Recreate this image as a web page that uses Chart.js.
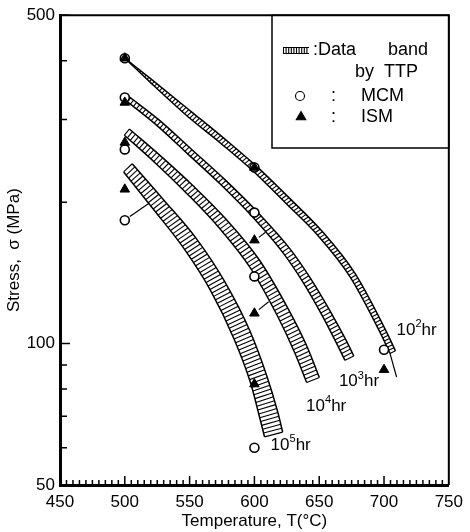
<!DOCTYPE html>
<html>
<head>
<meta charset="utf-8">
<title>Creep rupture stress</title>
<script src="https://cdn.jsdelivr.net/npm/chart.js@4.4.0/dist/chart.umd.min.js"></script>
<style>
  html, body { margin: 0; padding: 0; background: #fff; }
  canvas { display: block; }
</style>
</head>
<body>
<canvas id="grafico" width="470" height="532"></canvas>
<script>
// Predicted rupture stress (MPa) at each test temperature (°C)
const mcmTemp   = [500, 500, 500, 500, 600, 600, 600, 600, 700];
const mcmStress = [405, 334, 259, 183, 237, 190, 139, 60, 97];
const ismTemp   = [500, 500, 500, 500, 600, 600, 600, 600, 700];
const ismStress = [405, 326, 268, 213, 237, 166, 116, 82, 88];

// TTP data bands, [temperature, stress] along the outer and inner edge
const band2Outer = [[500, 405], [520.6, 365], [551.7, 311], [576.8, 273], [601.9, 238], [627, 204], [652.2, 173.4], [677.5, 141.2], [701.9, 105.9], [708.8, 96.5]];
const band2Inner = [[500, 405], [519.1, 361], [548.8, 304], [573.9, 267], [598.9, 233], [623.8, 199.5], [648.8, 170.1], [673.7, 138.9], [697.8, 104.5], [704.6, 95.3]];
const band3Outer = [[502.1, 337.3], [526.6, 299], [551.8, 258.6], [577, 223.6], [602.3, 190.6], [627.9, 158.5], [643.4, 137.5], [658.1, 117.7], [670.6, 101.8], [676.7, 94.1]];
const band3Inner = [[499.7, 330.9], [523.8, 292.8], [548.7, 253.1], [573.6, 218.6], [598.5, 186.1], [623, 154.8], [637.9, 134.5], [652, 115.1], [663.9, 99.5], [669.9, 92.1]];
const band4Outer = [[503.5, 286.2], [528.2, 250], [552.9, 216.4], [578.5, 183.4], [604.2, 150.1], [626.8, 117.5], [640.9, 98.1], [650.1, 84.7]];
const band4Inner = [[499.7, 277.7], [523.7, 242.1], [547.6, 209], [572.2, 177.1], [596.6, 145.3], [618, 114.2], [631.2, 95.5], [640.3, 82.6]];
const band5Outer = [[505.7, 241.4], [530, 202.2], [555.2, 167.3], [577.1, 135.5], [596.8, 106], [609.9, 84.8], [618, 71.5], [621.8, 64.8]];
const band5Inner = [[499.1, 231.9], [521.9, 193.4], [545.3, 159.8], [565.9, 130.1], [584.3, 102.3], [597, 82.5], [604, 69.7], [607.8, 63.3]];

// short leader lines from markers to bands
const leaderLines = [
    [[704.6, 95.3], [709.7, 84.9]],
    [[503.9, 186.5], [518.4, 198.7]],
    [[603.4, 168.3], [608.6, 172.6]],
    [[603.4, 118.1], [611, 122.8]]
];

// rupture time of each band (exponent of 10, hours) and where its label sits
const bandExponents = ['2', '3', '4', '5'];
const bandLabelAt = [[709.7, 106.7], [665.2, 83.0], [639.9, 73.5], [612.5, 60.7]];

// axis ticks
const xTickValues = [450, 500, 550, 600, 650, 700, 750];
const yTickValues = [50, 100, 500];
const yMinorTicks = [60, 70, 80, 90, 200, 300, 400];

const FONT = "'Liberation Sans', Arial, sans-serif";
const hatchGap = [3.4, 3.8, 4, 4];

const bands = [
    [band2Outer, band2Inner],
    [band3Outer, band3Inner],
    [band4Outer, band4Inner],
    [band5Outer, band5Inner]
];

const toXY = (pairs) => pairs.map(p => ({ x: p[0], y: p[1] }));

const datasets = [];

datasets.push({
    label: 'ISM',
    data: ismTemp.map((t, i) => ({ x: t, y: ismStress[i] })),
    showLine: false,
    pointStyle: 'triangle',
    pointRadius: 5.5,
    pointBackgroundColor: '#000',
    pointBorderColor: '#000',
    pointBorderWidth: 1,
    order: 0
});

datasets.push({
    label: 'MCM',
    data: mcmTemp.map((t, i) => ({ x: t, y: mcmStress[i] })),
    showLine: false,
    pointStyle: 'circle',
    pointRadius: 4.5,
    pointBackgroundColor: '#fff',
    pointBorderColor: '#000',
    pointBorderWidth: 1.6,
    order: 1
});

leaderLines.forEach((line) => {
    datasets.push({
        data: toXY(line),
        borderColor: '#000',
        borderWidth: 1.2,
        pointRadius: 0,
        tension: 0,
        order: 2
    });
});

bands.forEach((band, b) => {
    band.forEach((edge, e) => {
        datasets.push({
            data: toXY(edge),
            borderColor: '#000',
            borderWidth: 1.5,
            pointRadius: 0,
            cubicInterpolationMode: 'monotone',
            bandIndex: b,
            edgeIndex: e,
            order: 3
        });
    });
});

// sample the drawn (monotone bezier) edge in pixels
function sampleEdge(meta, area) {
    if (meta.dataset && meta.dataset.updateControlPoints) {
        meta.dataset.updateControlPoints(area, 'x');
    }
    const pts = meta.data;
    const out = [];
    for (let i = 0; i < pts.length - 1; i++) {
        const a = pts[i], b = pts[i + 1];
        const c1x = a.cp2x ?? a.x, c1y = a.cp2y ?? a.y;
        const c2x = b.cp1x ?? b.x, c2y = b.cp1y ?? b.y;
        for (let k = 0; k < 24; k++) {
            const t = k / 24, u = 1 - t;
            out.push([
                u * u * u * a.x + 3 * u * u * t * c1x + 3 * u * t * t * c2x + t * t * t * b.x,
                u * u * u * a.y + 3 * u * u * t * c1y + 3 * u * t * t * c2y + t * t * t * b.y
            ]);
        }
    }
    const last = pts[pts.length - 1];
    out.push([last.x, last.y]);
    return out;
}

function polyLength(poly) {
    const cum = [0];
    for (let i = 1; i < poly.length; i++) {
        cum.push(cum[i - 1] + Math.hypot(poly[i][0] - poly[i - 1][0], poly[i][1] - poly[i - 1][1]));
    }
    return cum;
}

function resample(poly, n) {
    const cum = polyLength(poly);
    const total = cum[cum.length - 1];
    const res = [];
    let j = 0;
    for (let k = 0; k <= n; k++) {
        const d = total * k / n;
        while (j < cum.length - 2 && cum[j + 1] < d) j++;
        const seg = cum[j + 1] - cum[j];
        const f = seg ? (d - cum[j]) / seg : 0;
        res.push([
            poly[j][0] + (poly[j + 1][0] - poly[j][0]) * f,
            poly[j][1] + (poly[j + 1][1] - poly[j][1]) * f
        ]);
    }
    return res;
}

// hatching across each band, between its two edges
const bandHatch = {
    id: 'bandHatch',
    beforeDatasetsDraw(chart) {
        const ctx = chart.ctx;
        const area = chart.chartArea;
        ctx.save();
        ctx.beginPath();
        ctx.rect(area.left, area.top, area.right - area.left, area.bottom - area.top);
        ctx.clip();
        ctx.strokeStyle = '#000';
        ctx.lineWidth = 1.1;
        bands.forEach((band, b) => {
            const edges = [];
            chart.data.datasets.forEach((ds, i) => {
                if (ds.bandIndex === b) edges[ds.edgeIndex] = sampleEdge(chart.getDatasetMeta(i), area);
            });
            const lenA = polyLength(edges[0]).pop();
            const lenB = polyLength(edges[1]).pop();
            const n = Math.max(2, Math.round((lenA + lenB) / 2 / hatchGap[b]));
            const outer = resample(edges[0], n);
            const inner = resample(edges[1], n);
            ctx.beginPath();
            for (let k = 0; k <= n; k++) {
                ctx.moveTo(outer[k][0], outer[k][1]);
                ctx.lineTo(inner[k][0], inner[k][1]);
            }
            ctx.stroke();
        });
        ctx.restore();
    }
};

// frame, inward ticks, band labels and the boxed legend
const decorations = {
    id: 'decorations',
    afterDraw(chart) {
        const ctx = chart.ctx;
        const area = chart.chartArea;
        const xs = chart.scales.x, ys = chart.scales.y;
        ctx.save();
        ctx.strokeStyle = '#000';
        ctx.fillStyle = '#000';

        // top and right frame
        ctx.lineWidth = 2;
        ctx.beginPath();
        ctx.moveTo(area.left, area.top);
        ctx.lineTo(area.right, area.top);
        ctx.lineTo(area.right, area.bottom);
        ctx.stroke();

        // inward ticks
        ctx.lineWidth = 1.5;
        ctx.beginPath();
        for (let v = 455; v < 750; v += 5) {
            const px = xs.getPixelForValue(v);
            const len = v % 50 === 0 ? 9 : 5;
            ctx.moveTo(px, area.bottom);
            ctx.lineTo(px, area.bottom - len);
        }
        yMinorTicks.forEach(v => {
            const py = ys.getPixelForValue(v);
            ctx.moveTo(area.left, py);
            ctx.lineTo(area.left + 7, py);
        });
        yTickValues.forEach(v => {
            const py = ys.getPixelForValue(v);
            ctx.moveTo(area.left, py);
            ctx.lineTo(area.left + 10, py);
        });
        ctx.stroke();

        // band labels: 10^n hr
        ctx.textBaseline = 'middle';
        ctx.textAlign = 'left';
        bandExponents.forEach((e, i) => {
            let px = xs.getPixelForValue(bandLabelAt[i][0]);
            const py = ys.getPixelForValue(bandLabelAt[i][1]);
            ctx.font = '17px ' + FONT;
            ctx.fillText('10', px, py);
            px += ctx.measureText('10').width;
            ctx.font = '11px ' + FONT;
            ctx.fillText(e, px, py - 6);
            px += ctx.measureText(e).width;
            ctx.font = '17px ' + FONT;
            ctx.fillText('hr', px, py);
        });

        // legend box
        const bx = 272, by = area.top, bw = area.right - bx, bh = 148 - area.top;
        ctx.lineWidth = 1.5;
        ctx.strokeRect(bx, by, bw, bh);

        // hatched band symbol
        ctx.lineWidth = 1.1;
        ctx.beginPath();
        ctx.moveTo(283, 47.5);
        ctx.lineTo(309, 47.5);
        ctx.moveTo(283, 53.5);
        ctx.lineTo(309, 53.5);
        for (let sx = 283.5; sx <= 309; sx += 2.6) {
            ctx.moveTo(sx, 47.5);
            ctx.lineTo(sx, 53.5);
        }
        ctx.stroke();

        ctx.font = '18px ' + FONT;
        ctx.fillText(':Data', 313, 50);
        ctx.fillText('band', 388, 50);
        ctx.fillText('by  TTP', 355, 72);
        ctx.fillText(':', 331, 96);
        ctx.fillText('MCM', 361, 96);
        ctx.fillText(':', 331, 117);
        ctx.fillText('ISM', 361, 117);

        ctx.fillStyle = '#fff';
        Chart.helpers.drawPoint(ctx, { pointStyle: 'circle', radius: 4.5, borderWidth: 1.6 }, 300, 96);
        ctx.fillStyle = '#000';
        Chart.helpers.drawPoint(ctx, { pointStyle: 'triangle', radius: 5.5, borderWidth: 1 }, 301, 117);

        ctx.restore();
    }
};

const tickFont = { family: FONT, size: 17 };

new Chart(document.getElementById('grafico'), {
    type: 'line',
    data: { datasets: datasets },
    options: {
        responsive: false,
        animation: false,
        events: [],
        layout: { padding: { top: 12, right: 15, left: 0, bottom: 0 } },
        plugins: {
            legend: { display: false },
            tooltip: { enabled: false }
        },
        scales: {
            x: {
                type: 'linear',
                min: 450,
                max: 750,
                afterBuildTicks: (scale) => { scale.ticks = xTickValues.map(v => ({ value: v })); },
                afterFit: (scale) => { scale.height = 47; },
                grid: { display: false, drawTicks: false },
                border: { display: true, width: 3, color: '#000' },
                ticks: { padding: 7, color: '#000', font: tickFont, maxRotation: 0, autoSkip: false },
                title: {
                    display: true,
                    text: 'Temperature, T(°C)',
                    color: '#000',
                    font: { family: FONT, size: 17 },
                    padding: { top: 0, bottom: 0 }
                }
            },
            y: {
                type: 'logarithmic',
                min: 50,
                max: 500,
                afterBuildTicks: (scale) => { scale.ticks = yTickValues.map(v => ({ value: v })); },
                afterFit: (scale) => { scale.width = 60; },
                grid: { display: false, drawTicks: false },
                border: { display: true, width: 3, color: '#000' },
                ticks: {
                    padding: 5,
                    color: '#000',
                    font: tickFont,
                    autoSkip: false,
                    callback: (v) => String(v)
                },
                title: {
                    display: true,
                    text: 'Stress,  σ (MPa)',
                    color: '#000',
                    font: { family: FONT, size: 17 },
                    padding: { top: 4, bottom: 0 }
                }
            }
        }
    },
    plugins: [bandHatch, decorations]
});
</script>
</body>
</html>
